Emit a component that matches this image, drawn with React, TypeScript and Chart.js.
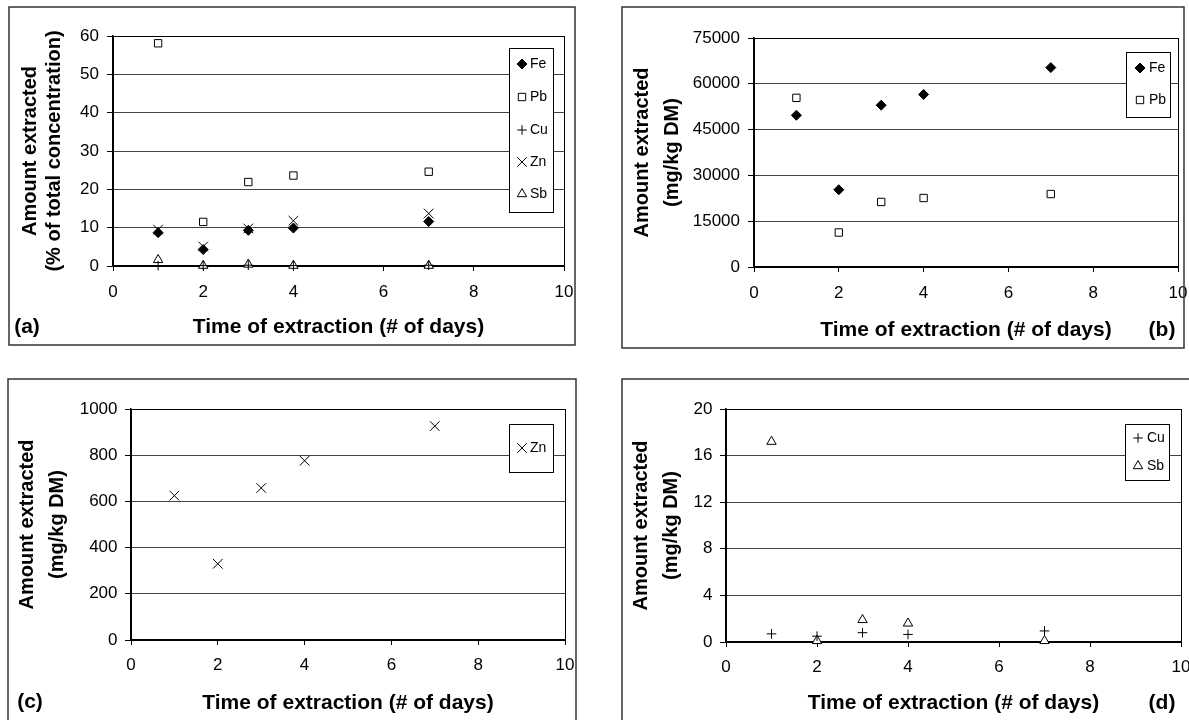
import React, { useEffect, useRef } from "react";
import { Chart, registerables } from "chart.js";
import { drawPoint } from "chart.js/helpers";

Chart.register(...registerables);

const FONT = "'Liberation Sans', Arial, Helvetica, sans-serif";
Chart.defaults.font.family = FONT;

// ---------- data ----------
const days = [1, 2, 3, 4, 7];

// (a) % of total concentration
const pctFe = [8.7, 4.3, 9.3, 9.9, 11.6];
const pctPb = [58.1, 11.5, 21.9, 23.6, 24.6];
const pctCu = [0.1, 0.1, 0.2, 0.1, 0.2];
const pctZn = [9.5, 5.1, 9.8, 11.8, 13.7];
const pctSb = [1.6, 0.1, 0.4, 0.1, 0.1];

// (b) mg/kg DM
const mgFe = [49700, 25300, 53000, 56500, 65300];
const mgPb = [55400, 11300, 21300, 22600, 23900];

// (c) mg/kg DM
const mgZn = [625, 330, 658, 776, 926];

// (d) mg/kg DM
const mgCu = [0.7, 0.5, 0.8, 0.65, 0.95];
const mgSb = [17.2, 0.1, 1.9, 1.6, 0.1];

const xTitle = "Time of extraction (# of days)";
const yTitlePct = ["Amount extracted", "(% of total concentration)"];
const yTitleMg = ["Amount extracted", "(mg/kg DM)"];

// ---------- marker styles ----------
const MARKERS: Record<string, { pointStyle: any; radius: number; fill: string }> = {
  Fe: { pointStyle: "rectRot", radius: 5, fill: "#000000" },
  Pb: { pointStyle: "rect", radius: 5.2, fill: "#ffffff" },
  Cu: { pointStyle: "cross", radius: 4.8, fill: "#ffffff" },
  Zn: { pointStyle: "crossRot", radius: 6.8, fill: "#ffffff" },
  Sb: { pointStyle: "triangle", radius: 5.4, fill: "#ffffff" },
};

type Series = { name: string; values: number[] };

type PanelCfg = {
  left: number; top: number; w: number; h: number;
  frame: [number, number, number, number];
  plot: { l: number; t: number; r: number; b: number };
  yMax: number; yStep: number;
  yTitle: string[]; yLH: number; yTitleX: number;
  xTitleY: number;
  label: string; labelX: number; labelY: number;
  legendBox: [number, number, number, number];
  legendRows: number[]; markerX: number; textX: number;
  xTickPad: number; yTickPad: number;
  series: Series[];
};

const panels: PanelCfg[] = [
  {
    left: 0, top: 0, w: 595, h: 360,
    frame: [9, 7, 575, 345],
    plot: { l: 113, t: 36, r: 564, b: 266 },
    yMax: 60, yStep: 10,
    yTitle: yTitlePct, yLH: 24, yTitleX: 30,
    xTitleY: 327,
    label: "(a)", labelX: 27, labelY: 327,
    legendBox: [509, 48, 553, 212],
    legendRows: [64, 97, 130, 162, 194], markerX: 522, textX: 530,
    xTickPad: 10.8, yTickPad: 8,
    series: [
      { name: "Fe", values: pctFe },
      { name: "Pb", values: pctPb },
      { name: "Cu", values: pctCu },
      { name: "Zn", values: pctZn },
      { name: "Sb", values: pctSb },
    ],
  },
  {
    left: 595, top: 0, w: 594, h: 360,
    frame: [27, 7, 589, 348],
    plot: { l: 159, t: 38, r: 583, b: 267 },
    yMax: 75000, yStep: 15000,
    yTitle: yTitleMg, yLH: 30, yTitleX: 47,
    xTitleY: 330,
    label: "(b)", labelX: 567, labelY: 330,
    legendBox: [531, 52, 575, 117],
    legendRows: [68, 100], markerX: 545, textX: 554,
    xTickPad: 10.8, yTickPad: 8,
    series: [
      { name: "Fe", values: mgFe },
      { name: "Pb", values: mgPb },
    ],
  },
  {
    left: 0, top: 360, w: 595, h: 360,
    frame: [8, 19, 576, 420],
    plot: { l: 131, t: 49, r: 565, b: 280 },
    yMax: 1000, yStep: 200,
    yTitle: yTitleMg, yLH: 30, yTitleX: 27,
    xTitleY: 343,
    label: "(c)", labelX: 30, labelY: 342,
    legendBox: [509, 64, 553, 112],
    legendRows: [88], markerX: 522, textX: 530,
    xTickPad: 9.8, yTickPad: 7.5,
    series: [{ name: "Zn", values: mgZn }],
  },
  {
    left: 595, top: 360, w: 594, h: 360,
    frame: [27, 19, 620, 420],
    plot: { l: 131, t: 49, r: 586, b: 282 },
    yMax: 20, yStep: 4,
    yTitle: yTitleMg, yLH: 30, yTitleX: 46,
    xTitleY: 343,
    label: "(d)", labelX: 567, labelY: 343,
    legendBox: [530, 64, 574, 120],
    legendRows: [78, 106], markerX: 543, textX: 552,
    xTickPad: 9.8, yTickPad: 7.5,
    series: [
      { name: "Cu", values: mgCu },
      { name: "Sb", values: mgSb },
    ],
  },
];

function decoPlugin(cfg: PanelCfg) {
  return {
    id: "deco",
    beforeDraw(chart: any) {
      const c = chart.ctx;
      c.save();
      c.fillStyle = "#ffffff";
      c.fillRect(0, 0, chart.width, chart.height);
      c.restore();
    },
    beforeDatasetsDraw(chart: any) {
      const { left, top, right, bottom } = chart.chartArea;
      const c = chart.ctx;
      c.save();
      c.strokeStyle = "#000";
      c.lineWidth = 1;
      c.strokeRect(left + 0.5, top + 0.5, right - left, bottom - top);
      c.restore();
    },
    afterDraw(chart: any) {
      const c = chart.ctx;
      c.save();
      // outer frame
      const [fx0, fy0, fx1, fy1] = cfg.frame;
      c.strokeStyle = "#333";
      c.lineWidth = 1.5;
      c.strokeRect(fx0, fy0, fx1 - fx0, fy1 - fy0);
      // legend
      const [lx0, ly0, lx1, ly1] = cfg.legendBox;
      c.fillStyle = "#ffffff";
      c.fillRect(lx0, ly0, lx1 - lx0, ly1 - ly0);
      c.strokeStyle = "#000";
      c.lineWidth = 1;
      c.strokeRect(lx0 + 0.5, ly0 + 0.5, lx1 - lx0, ly1 - ly0);
      cfg.series.forEach((s, i) => {
        const m = MARKERS[s.name];
        const y = cfg.legendRows[i];
        c.fillStyle = m.fill;
        c.strokeStyle = "#000";
        c.lineWidth = 1;
        drawPoint(c, { pointStyle: m.pointStyle, radius: m.radius, borderWidth: 1, rotation: 0 } as any, cfg.markerX, y);
        c.fillStyle = "#000";
        c.font = `14px ${FONT}`;
        c.textAlign = "left";
        c.textBaseline = "middle";
        c.fillText(s.name, cfg.textX, y);
      });
      // panel label
      c.fillStyle = "#000";
      c.font = `bold 21px ${FONT}`;
      c.textAlign = "center";
      c.textBaseline = "middle";
      c.fillText(cfg.label, cfg.labelX, cfg.labelY);
      c.restore();
    },
  };
}

function buildConfig(cfg: PanelCfg): any {
  const xTitleSize = 21;
  const xH = cfg.xTitleY - cfg.plot.b + (xTitleSize * 1.2) / 2;
  return {
    type: "scatter",
    data: {
      datasets: cfg.series.map((s) => {
        const m = MARKERS[s.name];
        return {
          label: s.name,
          data: days.map((d, i) => ({ x: d, y: s.values[i] })),
          pointStyle: m.pointStyle,
          pointRadius: m.radius,
          pointHoverRadius: m.radius,
          pointBackgroundColor: m.fill,
          pointBorderColor: "#000",
          pointBorderWidth: 1,
          showLine: false,
          clip: false,
        };
      }),
    },
    options: {
      animation: false,
      responsive: false,
      events: [],
      layout: {
        padding: {
          left: 0,
          top: cfg.plot.t,
          right: cfg.w - cfg.plot.r,
          bottom: cfg.h - cfg.plot.b - xH,
        },
      },
      plugins: { legend: { display: false }, tooltip: { enabled: false } },
      scales: {
        x: {
          type: "linear",
          position: "bottom",
          min: 0,
          max: 10,
          ticks: {
            stepSize: 2,
            font: { family: FONT, size: 17 },
            color: "#000",
            padding: cfg.xTickPad,
            callback: (v: any) => String(v),
          },
          grid: { drawOnChartArea: false, drawTicks: true, tickLength: 5, tickColor: "#000", tickWidth: 1 },
          border: { display: true, color: "#000", width: 1.5 },
          title: {
            display: true,
            text: xTitle,
            font: { family: FONT, size: xTitleSize, weight: "bold", lineHeight: 1.2 },
            color: "#000",
            padding: { top: 0, bottom: 0 },
          },
          afterFit: (s: any) => {
            s.height = xH;
            s.paddingLeft = 0;
            s.paddingRight = 0;
          },
        },
        y: {
          type: "linear",
          position: "left",
          min: 0,
          max: cfg.yMax,
          ticks: {
            stepSize: cfg.yStep,
            font: { family: FONT, size: 17 },
            color: "#000",
            padding: cfg.yTickPad,
            callback: (v: any) => String(v),
          },
          grid: { color: "#444", lineWidth: 1, drawTicks: true, tickLength: 6, tickColor: "#000", tickWidth: 1 },
          border: { display: true, color: "#000", width: 1.5 },
          title: {
            display: true,
            text: cfg.yTitle,
            font: { family: FONT, size: 20, weight: "bold", lineHeight: `${cfg.yLH}px` },
            color: "#000",
            padding: { top: cfg.yTitleX - cfg.yLH / 2, bottom: 0 },
          },
          afterFit: (s: any) => {
            s.width = cfg.plot.l;
            s.paddingTop = 0;
            s.paddingBottom = 0;
          },
        },
      },
    },
    plugins: [decoPlugin(cfg)],
  };
}

function Panel({ cfg }: { cfg: PanelCfg }) {
  const ref = useRef<HTMLCanvasElement>(null);
  useEffect(() => {
    if (!ref.current) return;
    const chart = new Chart(ref.current, buildConfig(cfg));
    return () => chart.destroy();
  }, [cfg]);
  return (
    <canvas
      ref={ref}
      width={cfg.w}
      height={cfg.h}
      style={{ position: "absolute", left: cfg.left, top: cfg.top, display: "block" }}
    />
  );
}

export default function App() {
  return (
    <div
      style={{
        position: "fixed",
        left: 0,
        top: 0,
        width: 1189,
        height: 720,
        overflow: "hidden",
        background: "#ffffff",
      }}
    >
      {panels.map((p) => (
        <Panel key={p.label} cfg={p} />
      ))}
    </div>
  );
}
